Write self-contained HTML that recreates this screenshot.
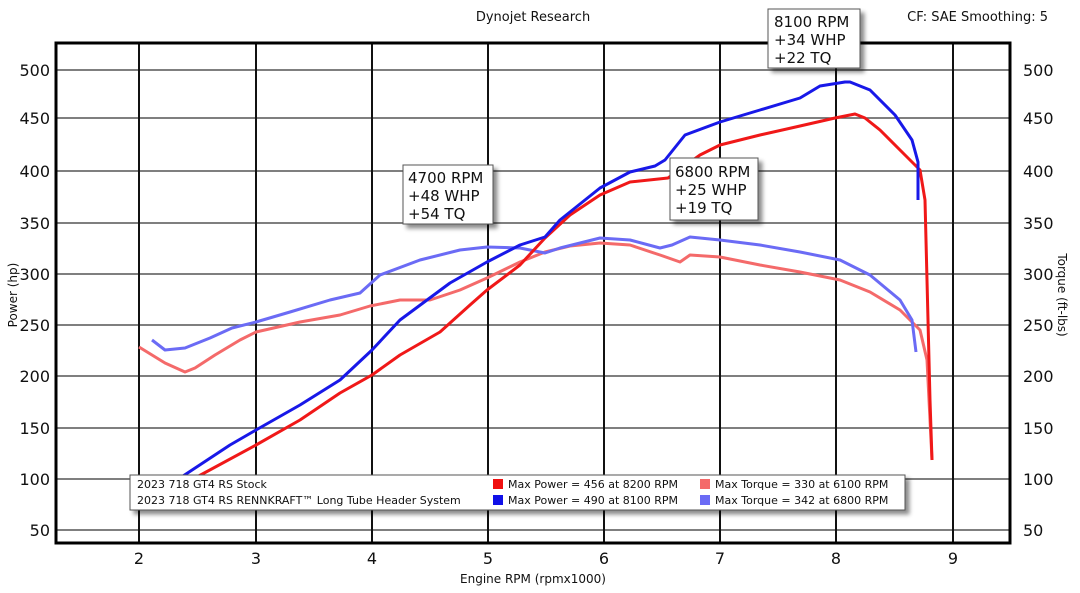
<!DOCTYPE html>
<html><head><meta charset="utf-8"><style>
html,body{margin:0;padding:0;background:#fff}
svg{display:block}
text{font-family:"DejaVu Sans","Liberation Sans",sans-serif;fill:#111}
</style></head><body>
<svg width="1080" height="593" viewBox="0 0 1080 593" xmlns="http://www.w3.org/2000/svg">
<defs><filter id="sh" x="-10%" y="-10%" width="130%" height="140%"><feDropShadow dx="4" dy="4" stdDeviation="2" flood-color="#000" flood-opacity="0.45"/></filter></defs>
<text x="533" y="21" font-size="13" text-anchor="middle">Dynojet Research</text>
<text x="1048" y="21" font-size="13" text-anchor="end">CF: SAE Smoothing: 5</text>
<!-- horizontal grid -->
<g stroke="#555" stroke-width="1.5">
<line x1="56" x2="1010" y1="70" y2="70"/><line x1="56" x2="1010" y1="118" y2="118"/>
<line x1="56" x2="1010" y1="171" y2="171"/><line x1="56" x2="1010" y1="223" y2="223"/>
<line x1="56" x2="1010" y1="274" y2="274"/><line x1="56" x2="1010" y1="325" y2="325"/>
<line x1="56" x2="1010" y1="376" y2="376"/><line x1="56" x2="1010" y1="428" y2="428"/>
<line x1="56" x2="1010" y1="479" y2="479"/><line x1="56" x2="1010" y1="530" y2="530"/>
</g>
<g stroke="#111" stroke-width="2">
<line x1="139" x2="139" y1="43" y2="543"/><line x1="256" x2="256" y1="43" y2="543"/>
<line x1="372" x2="372" y1="43" y2="543"/><line x1="488" x2="488" y1="43" y2="543"/>
<line x1="604" x2="604" y1="43" y2="543"/><line x1="720" x2="720" y1="43" y2="543"/>
<line x1="836" x2="836" y1="43" y2="543"/><line x1="953" x2="953" y1="43" y2="543"/>
</g>
<rect x="56" y="43" width="954" height="500" fill="none" stroke="#000" stroke-width="3"/>
<g font-size="16" text-anchor="end">
<text x="50" y="76">500</text><text x="50" y="124">450</text><text x="50" y="177">400</text><text x="50" y="229">350</text><text x="50" y="280">300</text><text x="50" y="331">250</text><text x="50" y="382">200</text><text x="50" y="434">150</text><text x="50" y="485">100</text><text x="50" y="536">50</text>
</g>
<g font-size="16">
<text x="1023" y="76">500</text><text x="1023" y="124">450</text><text x="1023" y="177">400</text><text x="1023" y="229">350</text><text x="1023" y="280">300</text><text x="1023" y="331">250</text><text x="1023" y="382">200</text><text x="1023" y="434">150</text><text x="1023" y="485">100</text><text x="1023" y="536">50</text>
</g>
<g font-size="16" text-anchor="middle">
<text x="139" y="564">2</text><text x="256" y="564">3</text><text x="372" y="564">4</text><text x="488" y="564">5</text><text x="604" y="564">6</text><text x="720" y="564">7</text><text x="836" y="564">8</text><text x="953" y="564">9</text>
</g>
<text x="533" y="583" font-size="12" text-anchor="middle">Engine RPM (rpmx1000)</text>
<text transform="translate(17,295) rotate(-90)" font-size="12" text-anchor="middle">Power (hp)</text>
<text transform="translate(1058,295) rotate(90)" font-size="12" text-anchor="middle">Torque (ft-lbs)</text>
<g fill="none" stroke-width="3" stroke-linejoin="round">
<polyline stroke="#f46a6a" points="139,347 165,363 185,372 195,368 215,355 240,340 256,332 300,322 340,315 370,306 400,300 430,300 460,290 487,278 520,262 545,252 570,246 600,243 630,245 660,255 680,262 690,255 720,257 760,265 800,272 840,280 870,292 900,310 920,330 927,360 932,460"/>
<polyline stroke="#6b6bf5" points="152,340 165,350 185,348 210,338 232,328 256,322 290,312 330,300 360,293 380,275 420,260 460,250 487,247 520,248 545,253 560,248 600,238 630,240 660,248 672,245 690,237 720,240 760,245 800,252 840,260 870,275 900,300 912,320 916,352"/>
<polyline stroke="#f01818" points="195,478 256,445 300,420 340,393 372,375 400,355 440,332 470,305 487,290 520,265 545,238 570,215 600,195 630,182 668,178 700,155 720,145 760,135 800,126 835,118 855,114 865,118 880,130 905,155 920,170 925,200 927,280 930,400 932,460"/>
<polyline stroke="#1818e8" points="180,478 230,445 256,430 300,405 340,380 372,350 400,320 450,283 487,262 520,245 545,237 560,220 600,188 630,172 655,166 665,160 685,135 720,122 760,110 800,98 820,86 845,82 850,82 870,90 895,115 912,140 918,162 918,200"/>
</g>
<g filter="url(#sh)">
<rect x="130" y="475" width="775" height="35" fill="#fff" stroke="#555"/>
<rect x="403" y="165" width="90" height="59" fill="#fff" stroke="#555"/>
<rect x="670" y="158" width="88" height="62" fill="#fff" stroke="#555"/>
<rect x="768" y="9" width="92" height="59" fill="#fff" stroke="#555"/>
</g>
<g font-size="11">
<text x="137" y="488">2023 718 GT4 RS Stock</text>
<text x="137" y="504">2023 718 GT4 RS RENNKRAFT™ Long Tube Header System</text>
<rect x="493" y="479" width="10" height="10" fill="#f01010"/><text x="508" y="488">Max Power = 456 at 8200 RPM</text>
<rect x="493" y="495" width="10" height="10" fill="#1010e8"/><text x="508" y="504">Max Power = 490 at 8100 RPM</text>
<rect x="700" y="479" width="10" height="10" fill="#f46a6a"/><text x="715" y="488">Max Torque = 330 at 6100 RPM</text>
<rect x="700" y="495" width="10" height="10" fill="#6b6bf5"/><text x="715" y="504">Max Torque = 342 at 6800 RPM</text>
</g>
<g font-size="15">
<text x="408" y="183">4700 RPM</text><text x="408" y="201">+48 WHP</text><text x="408" y="219">+54 TQ</text>
<text x="675" y="177">6800 RPM</text><text x="675" y="195">+25 WHP</text><text x="675" y="213">+19 TQ</text>
<text x="774" y="27">8100 RPM</text><text x="774" y="45">+34 WHP</text><text x="774" y="63">+22 TQ</text>
</g>
</svg>
</body></html>
